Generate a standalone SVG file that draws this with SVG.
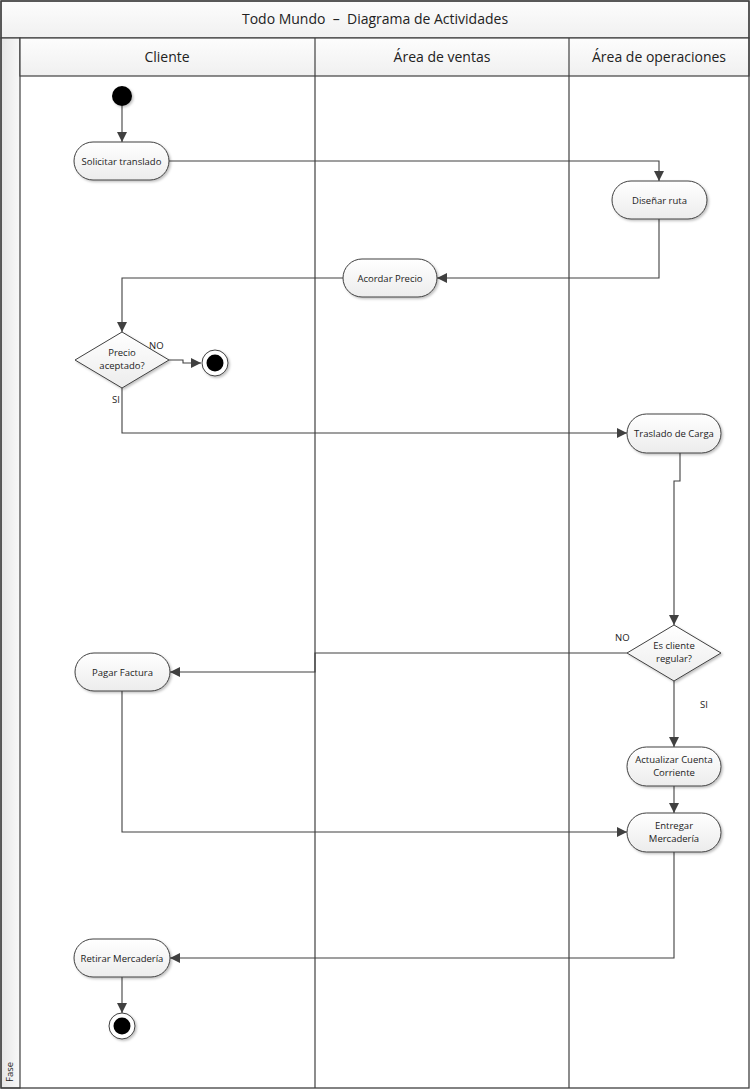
<svg xmlns="http://www.w3.org/2000/svg" width="750" height="1089" viewBox="0 0 750 1089">
  <style>
    .frame { fill: none; stroke: #404040; stroke-width: 1.3; }
    .band { fill: url(#hdr); stroke: #404040; stroke-width: 1.2; }
    .lane { stroke: #404040; stroke-width: 1.2; }
    .node { fill: url(#nodefill); stroke: #404040; stroke-width: 1; filter: url(#shadow); }
    .txt { font-family: "Open Sans", "Liberation Sans", sans-serif; font-size: 9.5px; fill: #222; text-anchor: middle; }
    .lbl { font-family: "Open Sans", "Liberation Sans", sans-serif; font-size: 9.5px; fill: #222; }
    .head { font-family: "Open Sans", "Liberation Sans", sans-serif; font-size: 14px; fill: #222; text-anchor: middle; }
    .edge { fill: none; stroke: #404040; stroke-width: 1.1; }
  </style>
  <defs>
    <linearGradient id="nodefill" x1="0" y1="0" x2="0" y2="1">
      <stop offset="0" stop-color="#ffffff"/>
      <stop offset="1" stop-color="#ececec"/>
    </linearGradient>
    <linearGradient id="hdr" x1="0" y1="0" x2="0" y2="1">
      <stop offset="0" stop-color="#fdfdfd"/>
      <stop offset="1" stop-color="#f0f0f0"/>
    </linearGradient>
    <linearGradient id="strip" x1="0" y1="0" x2="1" y2="0">
      <stop offset="0" stop-color="#e6e6e6"/>
      <stop offset="1" stop-color="#f8f8f8"/>
    </linearGradient>
    <filter id="shadow" x="-20%" y="-20%" width="150%" height="160%">
      <feDropShadow dx="1.5" dy="1.5" stdDeviation="1.2" flood-color="#000" flood-opacity="0.25"/>
    </filter>
    <marker id="arrow" viewBox="0 0 10 10" refX="10" refY="5" markerWidth="10" markerHeight="10" markerUnits="userSpaceOnUse" orient="auto">
      <path d="M0,0 L10,5 L0,10 z" fill="#404040"/>
    </marker>
  </defs>

  <!-- swimlane frame -->
  <g id="pool">
    <rect x="0" y="0" width="750" height="1089" fill="#ffffff"/>
    <rect class="band" x="1" y="1" width="748" height="37"/>
    <text class="head" x="375" y="24">Todo Mundo &#160;–&#160; Diagrama de Actividades</text>
    <rect x="1" y="38" width="19" height="1050" fill="url(#strip)" stroke="#404040" stroke-width="1.2"/>
    <text class="lbl" x="0" y="0" transform="translate(13,1082) rotate(-90)" font-size="8.5">Fase</text>
    <rect class="band" x="20" y="38" width="729" height="38"/>
    <line class="lane" x1="315" y1="38" x2="315" y2="1088"/>
    <line class="lane" x1="569" y1="38" x2="569" y2="1088"/>
    <text class="head" x="167" y="62">Cliente</text>
    <text class="head" x="442" y="62">Área de ventas</text>
    <text class="head" x="659" y="62">Área de operaciones</text>
    <rect class="frame" x="1" y="1" width="748" height="1087"/>
  </g>

  <!-- connectors -->
  <g id="connectors">
    <path class="edge" d="M122,106 V142" marker-end="url(#arrow)"/>
    <path class="edge" d="M169,161 H659 V181" marker-end="url(#arrow)"/>
    <path class="edge" d="M659,219 V278 H437" marker-end="url(#arrow)"/>
    <path class="edge" d="M343,278 H122 V332" marker-end="url(#arrow)"/>
    <path class="edge" d="M169,360 H183 V363 H201" marker-end="url(#arrow)"/>
    <path class="edge" d="M122,388 V433 H627" marker-end="url(#arrow)"/>
    <path class="edge" d="M680,453 V481 H674 V625" marker-end="url(#arrow)"/>
    <path class="edge" d="M627,653 H315 V672 H170" marker-end="url(#arrow)"/>
    <path class="edge" d="M674,681 V747" marker-end="url(#arrow)"/>
    <path class="edge" d="M674,786 V813" marker-end="url(#arrow)"/>
    <path class="edge" d="M122,691 V832 H627" marker-end="url(#arrow)"/>
    <path class="edge" d="M674,852 V958 H170" marker-end="url(#arrow)"/>
    <path class="edge" d="M122,977 V1013" marker-end="url(#arrow)"/>
    <text class="lbl" x="149" y="349">NO</text>
    <text class="lbl" x="112" y="403">SI</text>
    <text class="lbl" x="615" y="641">NO</text>
    <text class="lbl" x="700" y="708">SI</text>
  </g>

  <!-- nodes -->
  <g id="start">
    <circle cx="122" cy="96" r="10" fill="#000" filter="url(#shadow)"/>
  </g>
  <g id="solicitar">
    <rect class="node" x="74" y="142" width="95" height="38" rx="19"/>
    <text class="txt" x="121.5" y="164.5">Solicitar translado</text>
  </g>
  <g id="disenar">
    <rect class="node" x="612" y="181" width="95" height="38" rx="19"/>
    <text class="txt" x="659.5" y="203.5">Diseñar ruta</text>
  </g>
  <g id="acordar">
    <rect class="node" x="343" y="259" width="94" height="38" rx="19"/>
    <text class="txt" x="390" y="281.5">Acordar Precio</text>
  </g>
  <g id="precio-aceptado">
    <polygon class="node" points="122,332 169,360 122,388 75,360"/>
    <text class="txt" x="122" y="356">Precio</text>
    <text class="txt" x="122" y="369">aceptado?</text>
  </g>
  <g id="fin-rechazo">
    <circle cx="215" cy="363" r="13" fill="#fff" stroke="#404040" stroke-width="1" filter="url(#shadow)"/>
    <circle cx="215" cy="363" r="8.5" fill="#000"/>
  </g>
  <g id="traslado">
    <rect class="node" x="627" y="414" width="94" height="39" rx="19.5"/>
    <text class="txt" x="674" y="437">Traslado de Carga</text>
  </g>
  <g id="cliente-regular">
    <polygon class="node" points="674,625 721,653 674,681 627,653"/>
    <text class="txt" x="674" y="649">Es cliente</text>
    <text class="txt" x="674" y="662">regular?</text>
  </g>
  <g id="pagar">
    <rect class="node" x="75" y="653" width="95" height="38" rx="19"/>
    <text class="txt" x="122.5" y="675.5">Pagar Factura</text>
  </g>
  <g id="actualizar">
    <rect class="node" x="627" y="747" width="94" height="39" rx="19.5"/>
    <text class="txt" x="674" y="763">Actualizar Cuenta</text>
    <text class="txt" x="674" y="776">Corriente</text>
  </g>
  <g id="entregar">
    <rect class="node" x="627" y="813" width="94" height="39" rx="19.5"/>
    <text class="txt" x="674" y="829">Entregar</text>
    <text class="txt" x="674" y="842">Mercadería</text>
  </g>
  <g id="retirar">
    <rect class="node" x="74" y="939" width="96" height="38" rx="19"/>
    <text class="txt" x="122" y="961.5">Retirar Mercadería</text>
  </g>
  <g id="fin">
    <circle cx="122" cy="1026" r="13" fill="#fff" stroke="#404040" stroke-width="1" filter="url(#shadow)"/>
    <circle cx="122" cy="1026" r="8.5" fill="#000"/>
  </g>
</svg>
